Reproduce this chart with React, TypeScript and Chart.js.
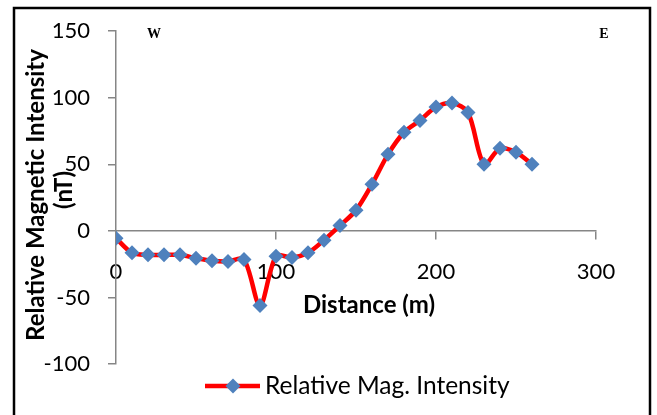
import React, { useEffect, useRef } from "react";
import { Chart, registerables } from "chart.js";

Chart.register(...registerables);

const distances = [0, 10, 20, 30, 40, 50, 60, 70, 80, 90, 100, 110, 120, 130, 140, 150, 160, 170, 180, 190, 200, 210, 220, 230, 240, 250, 260];
const intensity = [-5.5, -16.5, -18, -18, -18, -20.5, -22.5, -23, -21.5, -56, -19, -20, -16.5, -7, 4, 15.5, 35, 57.5, 74, 83, 93, 96, 89, 50, 62, 59, 50];
const xTicks = [0, 100, 200, 300];
const yTicks = [-100, -50, 0, 50, 100, 150];
const seriesLabel = "Relative Mag. Intensity";
const xTitle = "Distance (m)";
const yTitleLines = ["Relative Magnetic Intensity", "(nT)"];
const directionLabels = ["W", "E"];

const LINE_RED = "#FF0000";
const MARK_BLUE = "#4F81BD";
const AXIS_GRAY = "#868686";
const FONT = "Lato, 'Open Sans', sans-serif";

const decorPlugin = {
  id: "decor",
  afterDraw(chart: any) {
    const ctx = chart.ctx as CanvasRenderingContext2D;
    ctx.save();
    // outer frame
    ctx.strokeStyle = "#000";
    ctx.lineWidth = 2.5;
    ctx.strokeRect(14, 8, 636, 430);

    // y title
    ctx.fillStyle = "#000";
    ctx.font = `bold 24px ${FONT}`;
    ctx.textAlign = "center";
    ctx.textBaseline = "middle";
    ctx.save();
    ctx.translate(36, 195);
    ctx.rotate(-Math.PI / 2);
    ctx.fillText(yTitleLines[0], 0, 0);
    ctx.restore();
    ctx.save();
    ctx.translate(64, 190);
    ctx.rotate(-Math.PI / 2);
    ctx.fillText(yTitleLines[1], 0, 0);
    ctx.restore();

    // x title
    ctx.fillText(xTitle, 369, 305);

    // W / E
    ctx.font = "bold 14px 'Liberation Serif', 'Times New Roman', serif";
    ctx.fillText(directionLabels[0], 154, 34);
    ctx.fillText(directionLabels[1], 604, 34);

    // legend
    const ly = 386;
    ctx.strokeStyle = LINE_RED;
    ctx.lineWidth = 4.5;
    ctx.beginPath();
    ctx.moveTo(205, ly);
    ctx.lineTo(260, ly);
    ctx.stroke();
    ctx.fillStyle = MARK_BLUE;
    ctx.beginPath();
    ctx.moveTo(233, ly - 7.5);
    ctx.lineTo(240.5, ly);
    ctx.lineTo(233, ly + 7.5);
    ctx.lineTo(225.5, ly);
    ctx.closePath();
    ctx.fill();
    ctx.fillStyle = "#000";
    ctx.font = `24.5px ${FONT}`;
    ctx.textAlign = "left";
    ctx.fillText(seriesLabel, 265, ly);
    ctx.restore();
  },
};

export default function App() {
  const ref = useRef<HTMLCanvasElement>(null);
  useEffect(() => {
    if (!ref.current) return;
    const chart = new Chart(ref.current, {
      type: "line",
      data: {
        datasets: [
          {
            label: seriesLabel,
            data: distances.map((d, i) => ({ x: d, y: intensity[i] })),
            borderColor: LINE_RED,
            borderWidth: 4.5,
            tension: 0.3,
            pointStyle: "rectRot",
            pointRadius: 7.5,
            pointBackgroundColor: MARK_BLUE,
            pointBorderColor: MARK_BLUE,
            pointBorderWidth: 0,
            fill: false,
          },
        ],
      },
      options: {
        animation: false,
        responsive: false,
        devicePixelRatio: 1,
        layout: { padding: { top: 24, right: 61, bottom: 51, left: 0 } },
        plugins: { legend: { display: false }, tooltip: { enabled: false } },
        scales: {
          x: {
            type: "linear",
            position: { y: 0 },
            min: 0,
            max: 300,
            afterBuildTicks: (s: any) => {
              s.ticks = xTicks.map((v) => ({ value: v }));
            },
            grid: { display: true, drawOnChartArea: false, drawTicks: true, tickLength: 8, color: AXIS_GRAY, lineWidth: 1.5 },
            border: { display: true, color: AXIS_GRAY, width: 1.5 },
            ticks: { color: "#000", font: { family: FONT, size: 22 }, padding: 20, maxRotation: 0 },
          },
          y: {
            type: "linear",
            position: "left",
            min: -100,
            max: 150,
            afterBuildTicks: (s: any) => {
              s.ticks = yTicks.map((v) => ({ value: v }));
            },
            afterFit: (s: any) => {
              s.width = 116;
            },
            grid: { display: true, drawOnChartArea: false, drawTicks: true, tickLength: 8, color: AXIS_GRAY, lineWidth: 1.5 },
            border: { display: true, color: AXIS_GRAY, width: 1.5 },
            ticks: { color: "#000", font: { family: FONT, size: 22 }, padding: 18 },
          },
        },
      },
      plugins: [decorPlugin],
    });
    return () => chart.destroy();
  }, []);
  return (
    <div style={{ position: "fixed", left: 0, top: 0, width: 657, height: 415, background: "#fff" }}>
      <canvas ref={ref} width={657} height={415} style={{ width: 657, height: 415, display: "block" }} />
    </div>
  );
}
